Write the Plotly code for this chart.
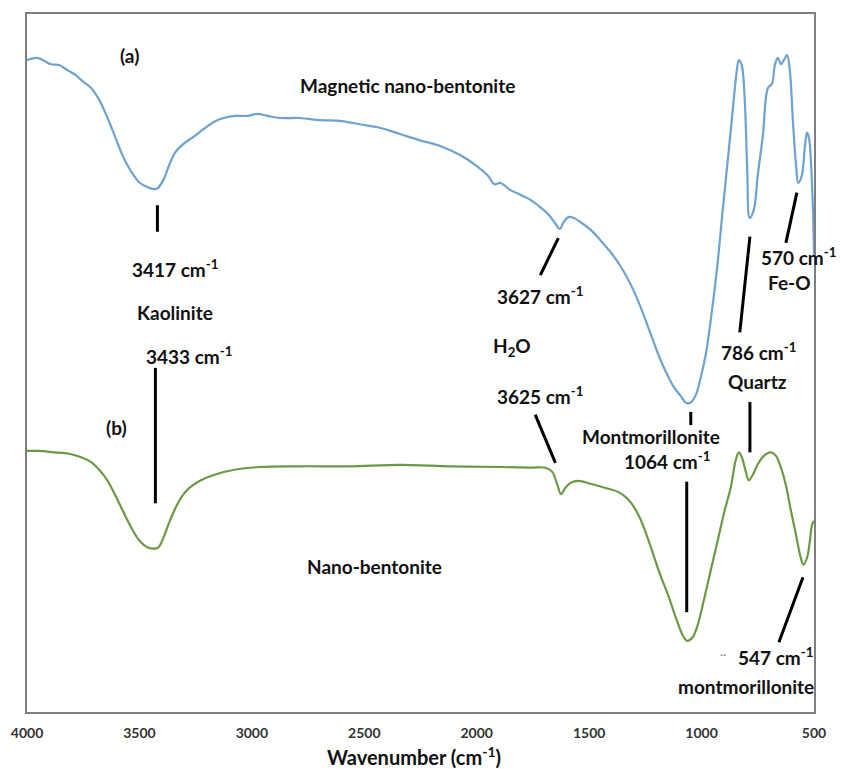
import plotly.graph_objects as go

# Spectrum (a): magnetic nano-bentonite
wn_a = [4000, 3955, 3924, 3893, 3857, 3822, 3786, 3750, 3715, 3679, 3643, 3608, 3572,
        3536, 3501, 3465, 3434, 3417, 3394, 3367, 3340, 3304, 3260, 3215, 3171, 3126,
        3073, 3019, 2975, 2930, 2876, 2787, 2698, 2609, 2520, 2431, 2341, 2252, 2163,
        2074, 2007, 1949, 1922, 1896, 1851, 1806, 1762, 1717, 1682, 1655, 1630, 1615,
        1592, 1570, 1539, 1494, 1450, 1405, 1361, 1316, 1271, 1227, 1182, 1146, 1120,
        1093, 1070, 1050, 1026, 1004, 982, 959, 932, 906, 879, 857, 843, 834, 821, 808,
        797, 786, 768, 750, 727, 705, 687, 674, 661, 647, 634, 620, 607, 594, 580, 570,
        554, 540, 531, 522, 513, 504, 500]
t_a = [93.4, 93.7, 93.3, 92.8, 92.7, 92.0, 91.3, 90.3, 89.4, 87.7, 85.2, 82.4, 79.5,
       77.4, 75.9, 75.2, 74.9, 75.1, 76.2, 78.4, 80.2, 81.4, 82.4, 83.5, 84.5, 85.1,
       85.4, 85.4, 85.7, 85.4, 85.1, 85.1, 84.8, 84.7, 84.2, 83.7, 82.8, 81.9, 81.1,
       79.8, 78.4, 76.8, 75.6, 75.8, 74.8, 74.1, 73.4, 72.3, 71.3, 70.2, 69.2, 70.1,
       70.9, 70.8, 70.2, 69.1, 67.6, 65.9, 63.9, 61.3, 58.0, 54.2, 50.4, 47.9, 46.4,
       45.3, 44.3, 44.3, 45.4, 47.9, 51.1, 56.2, 63.3, 71.9, 80.5, 87.7, 92.0, 93.4,
       92.6, 87.7, 77.7, 70.8, 71.9, 76.9, 82.7, 89.4, 90.0, 92.7, 93.7, 92.8, 93.4,
       94.1, 91.7, 84.8, 78.4, 75.8, 76.9, 81.2, 83.0, 82.2, 78.4, 71.2, 65.5]

# Spectrum (b): nano-bentonite
wn_b = [4000, 3946, 3880, 3813, 3759, 3715, 3679, 3643, 3608, 3572, 3536, 3501, 3465,
        3433, 3415, 3394, 3367, 3340, 3313, 3278, 3233, 3166, 3077, 2966, 2787, 2564,
        2341, 2118, 1896, 1762, 1695, 1664, 1641, 1625, 1606, 1583, 1548, 1494, 1427,
        1369, 1325, 1280, 1236, 1191, 1146, 1111, 1084, 1064, 1040, 1017, 990, 959, 928,
        897, 870, 848, 834, 821, 803, 790, 772, 750, 723, 692, 669, 647, 625, 603, 580,
        562, 547, 531, 518, 509, 500]
t_b = [37.4, 37.4, 37.2, 37.0, 36.5, 35.8, 34.7, 33.2, 31.1, 28.7, 26.4, 24.6, 23.6,
       23.4, 23.6, 24.9, 27.2, 29.2, 30.8, 32.1, 33.1, 34.0, 34.7, 35.1, 35.2, 35.2,
       35.4, 35.2, 35.1, 35.0, 35.0, 34.4, 32.5, 31.2, 32.1, 32.8, 33.1, 32.7, 32.1,
       31.5, 30.4, 28.2, 24.6, 20.3, 16.5, 13.2, 11.0, 10.2, 10.7, 12.5, 16.0, 20.3,
       24.6, 28.9, 32.2, 36.1, 37.2, 36.5, 34.4, 33.2, 34.0, 35.5, 36.7, 37.2, 36.7,
       35.0, 32.5, 28.9, 25.4, 22.5, 21.1, 22.1, 24.6, 26.8, 27.4]

x_ticks = [4000, 3500, 3000, 2500, 2000, 1500, 1000, 500]

# Peak labels: (text, wavenumber, level)
labels = [
    ("(a)", 3545, 94.1),
    ("Magnetic nano-bentonite", 2306, 89.8),
    ("3417 cm<sup>-1</sup>", 3340, 63.6),
    ("Kaolinite", 3340, 57.2),
    ("3433 cm<sup>-1</sup>", 3278, 51.1),
    ("(b)", 3603, 40.8),
    ("Nano-bentonite", 2453, 20.9),
    ("3627 cm<sup>-1</sup>", 1717, 59.6),
    ("H<sub>2</sub>O", 1842, 52.3),
    ("3625 cm<sup>-1</sup>", 1717, 45.3),
    ("Montmorillonite", 1227, 39.4),
    ("1064 cm<sup>-1</sup>", 1155, 36.1),
    ("786 cm<sup>-1</sup>", 745, 51.6),
    ("Quartz", 750, 47.3),
    ("570 cm<sup>-1</sup>", 571, 65.2),
    ("Fe-O", 611, 61.5),
    ("547 cm<sup>-1</sup>", 672, 7.9),
    ("montmorillonite", 803, 3.7),
]

# Leader lines from labels to bands: (x0, y0, x1, y1)
leaders = [
    (3420, 72.6, 3420, 68.8),
    (3429, 49.3, 3429, 29.9),
    (1637, 67.9, 1717, 62.6),
    (1740, 42.6, 1650, 35.7),
    (1048, 43.0, 1048, 41.1),
    (1066, 33.0, 1066, 14.3),
    (785, 44.4, 785, 37.2),
    (785, 68.1, 830, 54.4),
    (576, 74.4, 625, 67.2),
    (549, 19.3, 656, 10.0),
]

fig = go.Figure()
fig.add_trace(go.Scatter(x=wn_a, y=t_a, mode="lines", line=dict(color="#6fa2cf", width=2.2),
                         line_shape="spline", showlegend=False))
fig.add_trace(go.Scatter(x=wn_b, y=t_b, mode="lines", line=dict(color="#6b9a45", width=2.2),
                         line_shape="spline", showlegend=False))

font_lbl = dict(family="Lato", size=19, color="#111111")
for text, x, y in labels:
    fig.add_annotation(x=x, y=y, xref="x", yref="y", text="<b>" + text + "</b>", showarrow=False,
                       font=font_lbl, xanchor="center", yanchor="middle")
fig.add_annotation(x=906, y=8.3, xref="x", yref="y", text="··", showarrow=False,
                   font=dict(family="Lato", size=12, color="#888888"))

for x0, y0, x1, y1 in leaders:
    fig.add_shape(type="line", x0=x0, y0=y0, x1=x1, y1=y1, xref="x", yref="y",
                  line=dict(color="black", width=3))

# Axis title placed in paper coordinates below the plot frame
fig.add_annotation(x=(414 - 27) / 787, y=(712 - 756) / 698, xref="paper", yref="paper",
                   text="<b>Wavenumber (cm<sup>-1</sup>)</b>", showarrow=False, yanchor="middle",
                   font=dict(family="Lato", size=20, color="#111111"))

fig.update_xaxes(range=[4000, 500], tickvals=x_ticks, ticktext=["<b>%d</b>" % v for v in x_ticks],
                 showgrid=False, zeroline=False, showline=True, mirror=True,
                 linecolor="#7f7f7f", linewidth=1.5, ticks="", ticklabelstandoff=7,
                 tickfont=dict(family="Lato", size=14, color="#333333"))
fig.update_yaxes(range=[0, 100], showticklabels=False, showgrid=False, zeroline=False,
                 showline=True, mirror=True, linecolor="#7f7f7f", linewidth=1.5, ticks="")
fig.update_layout(width=841, height=769, margin=dict(l=27, r=27, t=14, b=57),
                  plot_bgcolor="white", paper_bgcolor="white")

fig.write_html("out.html")
